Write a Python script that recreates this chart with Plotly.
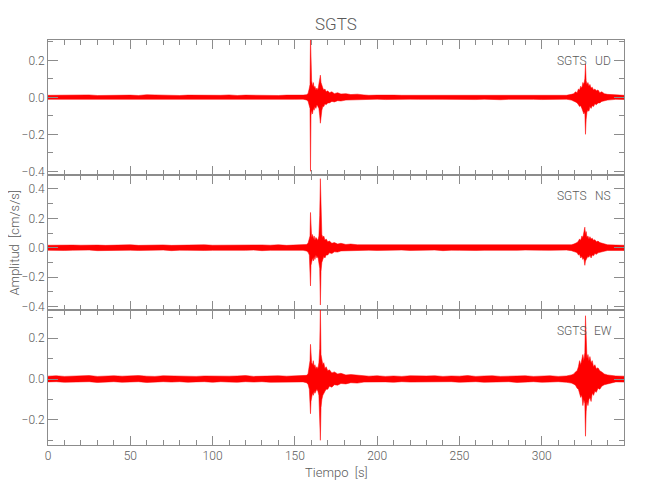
import plotly.graph_objects as go

# ---------------- data (amplitude envelopes) ----------------
# time stamps [s]
t_base1 = [0, 5, 10, 15, 20, 25, 30, 35, 40, 45, 50, 55, 60, 65, 70, 75, 80, 85, 90, 95,
           100, 105, 110, 115, 120, 125, 130, 135, 140, 145, 150, 155]
t_ev1 = [157, 158, 158.8, 159.2, 159.5, 159.8, 160.2, 160.7, 161.2, 161.7, 162.2, 162.8, 163.4, 164,
         164.6, 165.1, 165.5, 165.9, 166.4, 167, 167.6, 168.3, 169, 170, 171, 172.5, 174, 176, 178,
         181, 184, 188, 192]
t_base2 = [195, 200, 205, 210, 215, 220, 225, 230, 235, 240, 245, 250, 255, 260, 265, 270, 275,
           280, 285, 290, 295, 300, 305, 310, 315]
t_ev2 = [318, 319.5, 320.5, 321.5, 322.3, 323, 323.7, 324.4, 325, 325.6, 326.2, 326.6, 327, 327.5,
         328.1, 328.7, 329.3, 330, 330.7, 331.5, 332.3, 333.2, 334.2, 335.3, 336.5, 338, 340]
t_tail = [345, 350]

# UD component [cm/s/s]
ud_base1_up = [.011, .012, .010, .012, .011, .013, .010, .011, .012, .011, .012, .010, .014, .013, .011, .011,
               .010, .012, .011, .012, .011, .011, .013, .010, .012, .011, .012, .011, .010, .012, .011, .012]
ud_base1_lo = [-.011, -.010, -.012, -.011, -.012, -.010, -.011, -.013, -.011, -.012, -.010, -.011, -.013, -.014, -.011, -.010,
               -.012, -.011, -.012, -.010, -.011, -.012, -.011, -.012, -.010, -.011, -.011, -.012, -.013, -.011, -.011, -.010]
ud_ev1_up = [.014, .02, .05, .07, .33, .12, .09, .06, .08, .05, .06, .04, .05, .04, .07, .09, .12, .08, .06, .05,
             .04, .045, .03, .035, .025, .03, .02, .025, .018, .02, .015, .017, .013]
ud_ev1_lo = [-.014, -.02, -.04, -.06, -.40, -.10, -.07, -.09, -.06, -.07, -.05, -.06, -.04, -.05, -.06, -.10, -.14, -.11, -.07, -.05,
             -.05, -.035, -.04, -.03, -.03, -.022, -.025, -.018, -.02, -.015, -.016, -.013, -.014]
ud_base2_up = [.011, .012, .010, .012, .011, .011, .013, .010, .012, .011, .012, .010, .011, .013, .011, .012,
               .010, .011, .012, .011, .012, .010, .011, .012, .011]
ud_base2_lo = [-.011, -.010, -.012, -.011, -.012, -.010, -.011, -.013, -.011, -.011, -.010, -.012, -.011, -.012, -.010, -.011,
               -.013, -.011, -.012, -.010, -.011, -.012, -.011, -.012, -.010]
ud_ev2_up = [.016, .02, .03, .025, .045, .04, .06, .05, .08, .07, .10, .18, .09, .07, .08, .06, .07, .05, .055, .04,
             .045, .035, .04, .025, .03, .02, .016]
ud_ev2_lo = [-.015, -.02, -.025, -.03, -.04, -.05, -.045, -.06, -.07, -.09, -.08, -.20, -.12, -.08, -.07, -.075, -.05, -.06, -.045, -.05,
             -.035, -.04, -.03, -.03, -.022, -.02, -.015]
ud_tail_up = [.012, .011]
ud_tail_lo = [-.011, -.012]

# NS component [cm/s/s]
ns_base1_up = [.017, .019, .016, .018, .017, .020, .018, .016, .019, .017, .020, .016, .018, .017, .019, .016,
               .018, .019, .017, .020, .017, .018, .016, .019, .018, .017, .019, .017, .020, .016, .018, .017]
ns_base1_lo = [-.018, -.016, -.019, -.017, -.019, -.016, -.020, -.017, -.016, -.018, -.017, -.019, -.016, -.018, -.016, -.020,
               -.017, -.018, -.016, -.019, -.018, -.016, -.019, -.017, -.018, -.016, -.020, -.018, -.016, -.019, -.017, -.018]
ns_ev1_up = [.022, .03, .06, .08, .24, .10, .07, .09, .06, .08, .05, .07, .06, .05, .08, .22, .47, .15, .09, .07,
             .08, .05, .06, .04, .045, .03, .035, .025, .03, .022, .025, .02, .02]
ns_ev1_lo = [-.022, -.03, -.05, -.09, -.26, -.12, -.10, -.07, -.09, -.06, -.08, -.05, -.07, -.06, -.09, -.14, -.39, -.16, -.10, -.08,
             -.06, -.07, -.05, -.05, -.035, -.04, -.028, -.03, -.022, -.025, -.02, -.02, -.018]
ns_base2_up = [.018, .016, .019, .017, .018, .016, .020, .017, .019, .016, .018, .019, .016, .018, .017, .020,
               .016, .018, .019, .017, .016, .019, .018, .016, .019]
ns_base2_lo = [-.017, -.019, -.016, -.018, -.016, -.019, -.017, -.018, -.016, -.020, -.017, -.018, -.016, -.019, -.018, -.016,
               -.019, -.017, -.018, -.016, -.019, -.017, -.018, -.019, -.016]
ns_ev2_up = [.02, .025, .03, .035, .045, .06, .05, .08, .07, .10, .14, .09, .11, .07, .08, .06, .075, .06, .065, .05,
             .055, .04, .045, .035, .03, .025, .02]
ns_ev2_lo = [-.02, -.025, -.03, -.035, -.05, -.045, -.07, -.06, -.08, -.07, -.12, -.09, -.08, -.07, -.06, -.065, -.05, -.07, -.05, -.055,
             -.04, -.045, -.035, -.03, -.028, -.024, -.019]
ns_tail_up = [.018, .017]
ns_tail_lo = [-.017, -.019]

# EW component [cm/s/s]
ew_base1_up = [.014, .016, .013, .015, .014, .017, .013, .015, .016, .014, .015, .017, .014, .013, .016, .015,
               .014, .016, .013, .015, .014, .016, .014, .015, .017, .013, .015, .014, .016, .014, .015, .014]
ew_base1_lo = [-.014, -.013, -.016, -.014, -.015, -.013, -.017, -.014, -.013, -.016, -.015, -.013, -.017, -.014, -.013, -.015,
               -.013, -.016, -.014, -.013, -.016, -.013, -.015, -.016, -.013, -.015, -.013, -.016, -.014, -.013, -.015, -.014]
ew_ev1_up = [.018, .025, .06, .09, .17, .10, .08, .07, .09, .06, .07, .05, .06, .05, .08, .15, .36, .12, .09, .07,
             .08, .05, .06, .04, .045, .03, .035, .025, .028, .02, .022, .018, .016]
ew_ev1_lo = [-.018, -.025, -.05, -.09, -.17, -.11, -.09, -.07, -.08, -.06, -.07, -.06, -.05, -.06, -.08, -.12, -.30, -.14, -.10, -.08,
             -.07, -.06, -.05, -.05, -.035, -.04, -.028, -.03, -.022, -.024, -.018, -.02, -.015]
ew_base2_up = [.014, .016, .013, .015, .013, .016, .014, .015, .016, .013, .015, .014, .017, .013, .015, .016,
               .013, .015, .014, .016, .013, .015, .016, .013, .015]
ew_base2_lo = [-.013, -.015, -.014, -.016, -.013, -.015, -.016, -.013, -.015, -.014, -.013, -.016, -.015, -.013, -.016, -.014,
               -.015, -.013, -.017, -.014, -.013, -.016, -.015, -.013, -.016]
ew_ev2_up = [.02, .025, .035, .04, .06, .09, .07, .10, .12, .09, .13, .31, .14, .10, .12, .09, .11, .08, .09, .06,
             .07, .05, .055, .04, .035, .025, .02]
ew_ev2_lo = [-.02, -.025, -.03, -.045, -.05, -.07, -.09, -.08, -.13, -.10, -.12, -.28, -.16, -.11, -.13, -.10, -.09, -.11, -.07, -.08,
             -.06, -.065, -.045, -.05, -.035, -.028, -.022]
ew_tail_up = [.015, .014]
ew_tail_lo = [-.014, -.015]

components = ["UD", "NS", "EW"]
station = "SGTS"
y_ranges = [[-0.42, 0.31], [-0.424, 0.495], [-0.323, 0.338]]
label_y = [0.196, 0.35, 0.234]
x_ticks = [0, 50, 100, 150, 200, 250, 300]

FONT = "Roboto, Liberation Sans, sans-serif"
AX = "#8c8c8c"
TXT = "#5a5a5a"

t_all = t_base1 + t_ev1 + t_base2 + t_ev2 + t_tail
series = [
    (ud_base1_up + ud_ev1_up + ud_base2_up + ud_ev2_up + ud_tail_up,
     ud_base1_lo + ud_ev1_lo + ud_base2_lo + ud_ev2_lo + ud_tail_lo),
    (ns_base1_up + ns_ev1_up + ns_base2_up + ns_ev2_up + ns_tail_up,
     ns_base1_lo + ns_ev1_lo + ns_base2_lo + ns_ev2_lo + ns_tail_lo),
    (ew_base1_up + ew_ev1_up + ew_base2_up + ew_ev2_up + ew_tail_up,
     ew_base1_lo + ew_ev1_lo + ew_base2_lo + ew_ev2_lo + ew_tail_lo),
]
for up, lo in series:
    assert len(up) == len(t_all) and len(lo) == len(t_all), (len(up), len(lo), len(t_all))

fig = go.Figure()
for i, (up, lo) in enumerate(series):
    sfx = "" if i == 0 else str(i + 1)
    fig.add_trace(go.Scatter(
        x=t_all + t_all[::-1], y=up + lo[::-1],
        mode="lines", fill="toself", fillcolor="#ff0000",
        line=dict(color="#ff0000", width=0.5),
        xaxis="x" + sfx, yaxis="y" + sfx, hoverinfo="skip", showlegend=False))

domains = [[2/3, 1.0], [1/3, 2/3], [0.0, 1/3]]
layout = dict(
    width=634, height=484,
    margin=dict(l=40, r=18, t=32, b=47),
    paper_bgcolor="white", plot_bgcolor="white",
    showlegend=False,
    font=dict(family=FONT, color=TXT, size=12, weight=300),
)
tickfont = dict(family=FONT, size=12, color=TXT, weight=300)
for i in range(3):
    sfx = "" if i == 0 else str(i + 1)
    layout["xaxis" + sfx] = dict(
        domain=[0, 1], anchor="y" + sfx, range=[0, 350], automargin=False,
        tickvals=x_ticks, showticklabels=(i == 2),
        showline=True, linecolor=AX, linewidth=1, mirror="ticks",
        ticks="inside", ticklen=9, tickcolor=AX, tickwidth=1,
        minor=dict(ticks="inside", ticklen=5, tickcolor=AX, dtick=10, showgrid=False),
        showgrid=False, zeroline=False, tickfont=tickfont,
    )
    layout["yaxis" + sfx] = dict(
        domain=domains[i], anchor="x" + sfx, range=y_ranges[i], automargin=False,
        dtick=0.2, tick0=0, tickformat=".1f",
        showline=True, linecolor=AX, linewidth=1, mirror="ticks",
        ticks="inside", ticklen=10, tickcolor=AX, tickwidth=1,
        minor=dict(ticks="inside", ticklen=5, tickcolor=AX, dtick=0.1, showgrid=False),
        showgrid=False, zeroline=False, tickfont=tickfont,
    )
fig.update_layout(**layout)

lab_font = dict(family=FONT, size=12, color=TXT, weight=300)
ann = []
for i, comp in enumerate(components):
    sfx = "" if i == 0 else str(i + 1)
    ann.append(dict(x=318.3, y=label_y[i], xref="x" + sfx, yref="y" + sfx, text=station,
                    showarrow=False, font=lab_font))
    ann.append(dict(x=337.3, y=label_y[i], xref="x" + sfx, yref="y" + sfx, text=comp,
                    showarrow=False, font=lab_font))
ann.append(dict(x=0.5, y=1.0, xref="paper", yref="paper", yshift=16, xanchor="center", yanchor="middle",
                text=station, showarrow=False, font=dict(family=FONT, size=17, color=TXT, weight=300)))
ann.append(dict(x=0.5, y=0, xref="paper", yref="paper", yshift=-27, xanchor="center", yanchor="middle",
                text="Tiempo  [s]", showarrow=False, font=dict(family=FONT, size=13, color=TXT, weight=300)))
ann.append(dict(x=0, y=0.5, xref="paper", yref="paper", xshift=-34, xanchor="center", yanchor="middle",
                textangle=-90, text="Amplitud  [cm/s/s]", showarrow=False,
                font=dict(family=FONT, size=13, color=TXT, weight=300)))
fig.update_layout(annotations=ann)

fig.write_html("out.html")
